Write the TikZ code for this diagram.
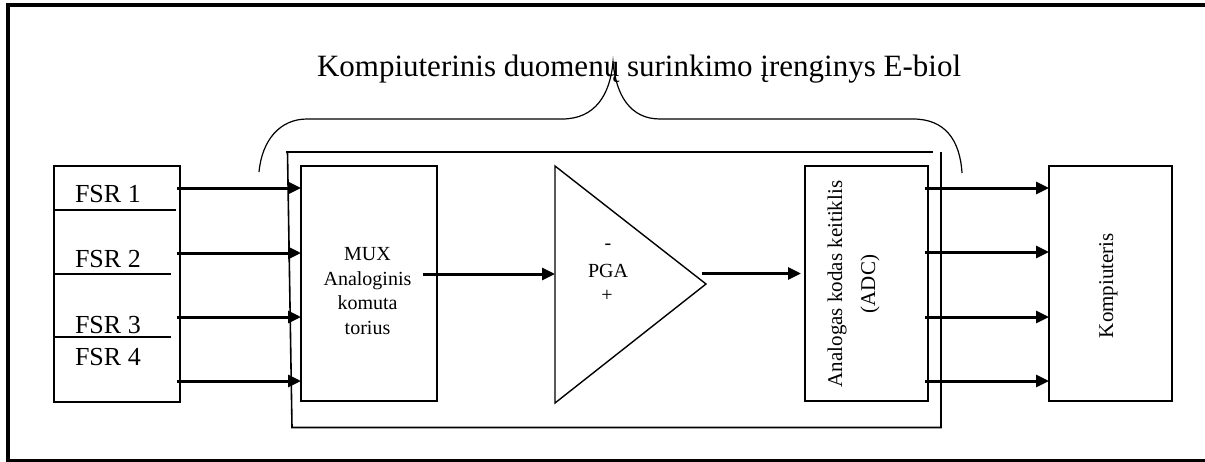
\documentclass[tikz,border=0pt]{standalone}
\usepackage{fontspec}
\setmainfont{Liberation Serif}
\usetikzlibrary{arrows.meta}
\begin{document}
\begin{tikzpicture}[x=1pt,y=-1pt,
  box/.style={draw, line width=1.6pt, inner sep=0pt, outer sep=0pt},
  arr/.style={line width=3pt, -{Triangle[length=13pt,width=12pt]}},
  lbl/.style={inner sep=0pt, outer sep=0pt},
  thin line/.style={line width=1.5pt}]
\useasboundingbox (0,0) rectangle (1205,461);
% outer frame (right side cut)
\draw[line width=4pt, line join=miter] (1210,5) -- (8,5) -- (8,461) -- (1210,461);
% title and brace
\node[lbl, anchor=base west, font=\fontsize{31}{36}\selectfont] (title) at (317,76)
  {Kompiuterinis duomenų surinkimo įrenginys E-biol};
\coordinate (brL) at (259,172);
\coordinate (brT) at (613,62);
\coordinate (brR) at (962,173);
\draw[line width=1.2pt] (brL) .. controls (262,140) and (280,119) .. (307,119)
  -- (562,119) .. controls (595,119) and (610,95) .. (brT)
  .. controls (616,95) and (630,119) .. (660,119)
  -- (913,119) .. controls (945,119) and (960,140) .. (brR);
% inner frame of the device
\draw[line width=1.6pt] (286,152) -- (933,152);
\draw[line width=1.6pt] (287.5,152) -- (292,427.5) -- (941,427.5) -- (941,152);
% FSR box
\node[box, minimum width=126pt, minimum height=236pt] (fsr) at (117,284) {};
\draw[line width=1.5pt] (fsr.west |- 0,210) -- (176,210);
\draw[line width=1.5pt] (fsr.west |- 0,274) -- (171,274);
\draw[line width=1.5pt] (fsr.west |- 0,337) -- (171,337);
\node[lbl, anchor=base west, font=\fontsize{26}{30}\selectfont] (fsr1) at (75,202) {FSR 1};
\node[lbl, anchor=base west, font=\fontsize{26}{30}\selectfont] (fsr2) at (75,267) {FSR 2};
\node[lbl, anchor=base west, font=\fontsize{26}{30}\selectfont] (fsr3) at (75,333) {FSR 3};
\node[lbl, anchor=base west, font=\fontsize{26}{30}\selectfont] (fsr4) at (75,365) {FSR 4};
% MUX box
\node[box, minimum width=136pt, minimum height=235pt] (mux) at (369,283.5) {};
\node[lbl, anchor=base, font=\fontsize{20}{24}\selectfont] (mux1) at (367.5,260) {MUX};
\node[lbl, anchor=base, font=\fontsize{20}{24}\selectfont] (mux2) at (367.5,285) {Analoginis};
\node[lbl, anchor=base, font=\fontsize{20}{24}\selectfont] (mux3) at (367.5,309.5) {komuta};
\node[lbl, anchor=base, font=\fontsize{20}{24}\selectfont] (mux4) at (367.5,334) {torius};
% PGA triangle
\coordinate (pgaA) at (555,166);
\coordinate (pgaB) at (555,403);
\coordinate (pgaC) at (706,284);
\draw[line width=1.4pt, line join=miter] (pgaA) -- (pgaC) -- (pgaB) -- cycle;
\node[lbl, font=\fontsize{20}{24}\selectfont] (minus) at (608,247) {-};
\node[lbl, anchor=base, font=\fontsize{20}{24}\selectfont] (pga) at (608,277) {PGA};
\node[lbl, font=\fontsize{20}{24}\selectfont] (plus) at (607,296) {+};
% ADC box
\node[box, minimum width=123pt, minimum height=235pt] (adc) at (866.5,283.5) {};
\node[lbl, anchor=base, rotate=90, font=\fontsize{21}{24}\selectfont] (adc1) at (842,284) {Analogas kodas keitiklis};
\node[lbl, anchor=base, rotate=90, font=\fontsize{21}{24}\selectfont] (adc2) at (875,284) {(ADC)};
% Kompiuteris box
\node[box, minimum width=123pt, minimum height=235pt] (komp) at (1110.5,283.5) {};
\node[lbl, anchor=base, rotate=90, font=\fontsize{21}{24}\selectfont] (komp1) at (1113,285.5) {Kompiuteris};
% FSR -> MUX arrows
\foreach \y [count=\i] in {188,253,317,381} {
  \coordinate (fo\i) at (177,\y);
  \draw[arr] (fo\i) -- (fo\i -| mux.west);
}
% MUX -> PGA
\coordinate (muxout) at (423,274);
\draw[arr] (muxout) -- (muxout -| pgaA);
% PGA -> ADC
\coordinate (pgaout) at (702,273.5);
\draw[arr] (pgaout) -- ([xshift=-4pt]pgaout -| adc.west);
% ADC -> Kompiuteris
\foreach \y [count=\i] in {188,252,317,381} {
  \coordinate (ao\i) at (925,\y);
  \draw[arr] (ao\i) -- (ao\i -| komp.west);
}
\end{tikzpicture}
\end{document}
